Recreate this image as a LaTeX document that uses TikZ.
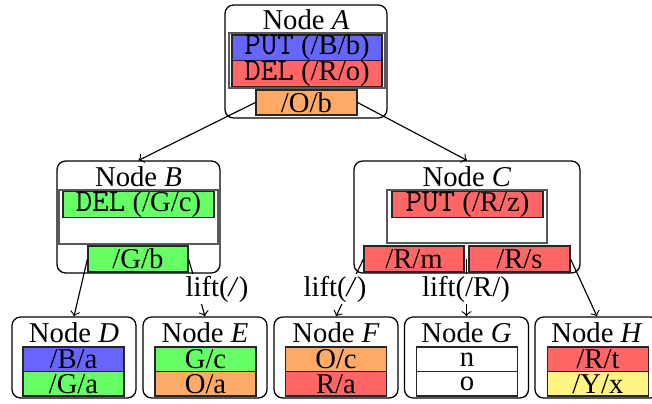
\documentclass[tikz,border=0pt]{standalone}
\usepackage{fontspec}
\setmainfont{Liberation Serif}
\usetikzlibrary{calc}
\newlength\pxu
\setlength\pxu{0.3485pt}
\newcommand\kw[1]{{\fontsize{11.2}{11}\selectfont\ttfamily #1}}
\definecolor{cblue}{RGB}{102,102,255}
\definecolor{cred}{RGB}{255,102,102}
\definecolor{cgreen}{RGB}{102,255,102}
\definecolor{corange}{RGB}{255,170,102}
\definecolor{cyellow}{RGB}{255,245,130}
\tikzset{
  outer/.style={draw=black, rounded corners=3pt, line width=0.45pt, inner sep=0pt},
  inner/.style={draw=black!65, line width=0.6pt, inner sep=0pt},
  row/.style={draw=black!85, line width=0.4pt, inner sep=0pt, font=\fontsize{10}{10}\selectfont},
  ttl/.style={inner sep=0pt, font=\fontsize{10}{10}\selectfont},
  lbl/.style={fill=white, inner sep=0.8pt, font=\fontsize{10}{10}\selectfont},
  conn/.style={->, line width=0.4pt},
}
\begin{document}
\begin{tikzpicture}[x=\pxu, y=-\pxu]
\useasboundingbox (0,0) rectangle (652,403);
% ---- Node A
\node[outer, minimum width=162*\pxu, minimum height=113*\pxu] (A) at (306,61.5) {};
\node[ttl] (tA) at (306,20) {Node \textit{A}};
\node[inner, minimum width=156*\pxu, minimum height=55*\pxu] (iA) at (307,60.5) {};
\node[row, fill=cblue, minimum width=150*\pxu, minimum height=26*\pxu] (a1) at (307,48) {\kw{PUT} (/B/b)};
\node[row, fill=cred, minimum width=150*\pxu, minimum height=25*\pxu] (a2) at (307,73.5) {\kw{DEL} (/R/o)};
\node[row, fill=corange, minimum width=101*\pxu, minimum height=25*\pxu] (ob) at (306.5,102.5) {/O/b};
% ---- Node B
\node[outer, minimum width=163*\pxu, minimum height=112*\pxu] (B) at (138.5,217) {};
\node[ttl] (tB) at (138.5,177) {Node \textit{B}};
\node[inner, minimum width=159*\pxu, minimum height=54*\pxu] (iB) at (138.5,217) {};
\node[row, fill=cgreen, minimum width=151*\pxu, minimum height=25*\pxu] (b1) at (138.5,204.5) {\kw{DEL} (/G/c)};
\node[row, fill=cgreen, minimum width=100*\pxu, minimum height=26*\pxu] (gb) at (138,259) {/G/b};
% ---- Node C
\node[outer, minimum width=226*\pxu, minimum height=112*\pxu] (C) at (467,217) {};
\node[ttl] (tC) at (467,177) {Node \textit{C}};
\node[inner, minimum width=160*\pxu, minimum height=53*\pxu] (iC) at (467,216.5) {};
\node[row, fill=cred, minimum width=151*\pxu, minimum height=25*\pxu] (c1) at (467.5,204.5) {\kw{PUT} (/R/z)};
\node[row, fill=cred, minimum width=100*\pxu, minimum height=26*\pxu] (rm) at (414,259) {/R/m};
\node[row, fill=cred, minimum width=101*\pxu, minimum height=26*\pxu] (rs) at (519.5,259) {/R/s};
% ---- Leaves
\foreach \n/\cx/\rx/\ca/\ta/\cb/\tb in {
  D/74/73.5/cblue/{/B/a}/cgreen/{/G/a},
  E/205/205.5/cgreen/{G/c}/corange/{O/a},
  F/336/336/corange/{O/c}/cred/{R/a},
  G/466.5/467/white/{n}/white/{o},
  H/597/598/cred/{/R/t}/cyellow/{/Y/x}}{
  \node[outer, minimum width=124*\pxu, minimum height=81*\pxu] (\n) at (\cx,357.5) {};
  \node[ttl] (t\n) at (\cx,333) {Node \textit{\n}};
  \node[row, fill=\ca, minimum width=101*\pxu, minimum height=24.5*\pxu] (\n1) at (\rx,359.25) {\ta};
  \node[row, fill=\cb, minimum width=101*\pxu, minimum height=24.5*\pxu] (\n2) at (\rx,383.75) {\tb};
}
% ---- Connectors
\coordinate (mRG) at ($(rm.east)!0.5!(rs.west)$);
\draw[conn] (ob.west) -- (B.north);
\draw[conn] (ob.east) -- (C.north);
\draw[conn] (gb.west) -- (D.north);
\draw[conn] (gb.east) -- (E.north);
\draw[conn] (rm.west) -- (F.north);
\draw[conn] (mRG) -- (mRG |- G.north);
\draw[conn] (rs.east) -- (H.north);
\node[lbl] (lBE) at (217,289) {lift(\textit{/})};
\node[lbl] (lCF) at (335,289) {lift(\textit{/})};
\node[lbl] (lCG) at (466,289) {lift(/R/)};
\end{tikzpicture}
\end{document}
